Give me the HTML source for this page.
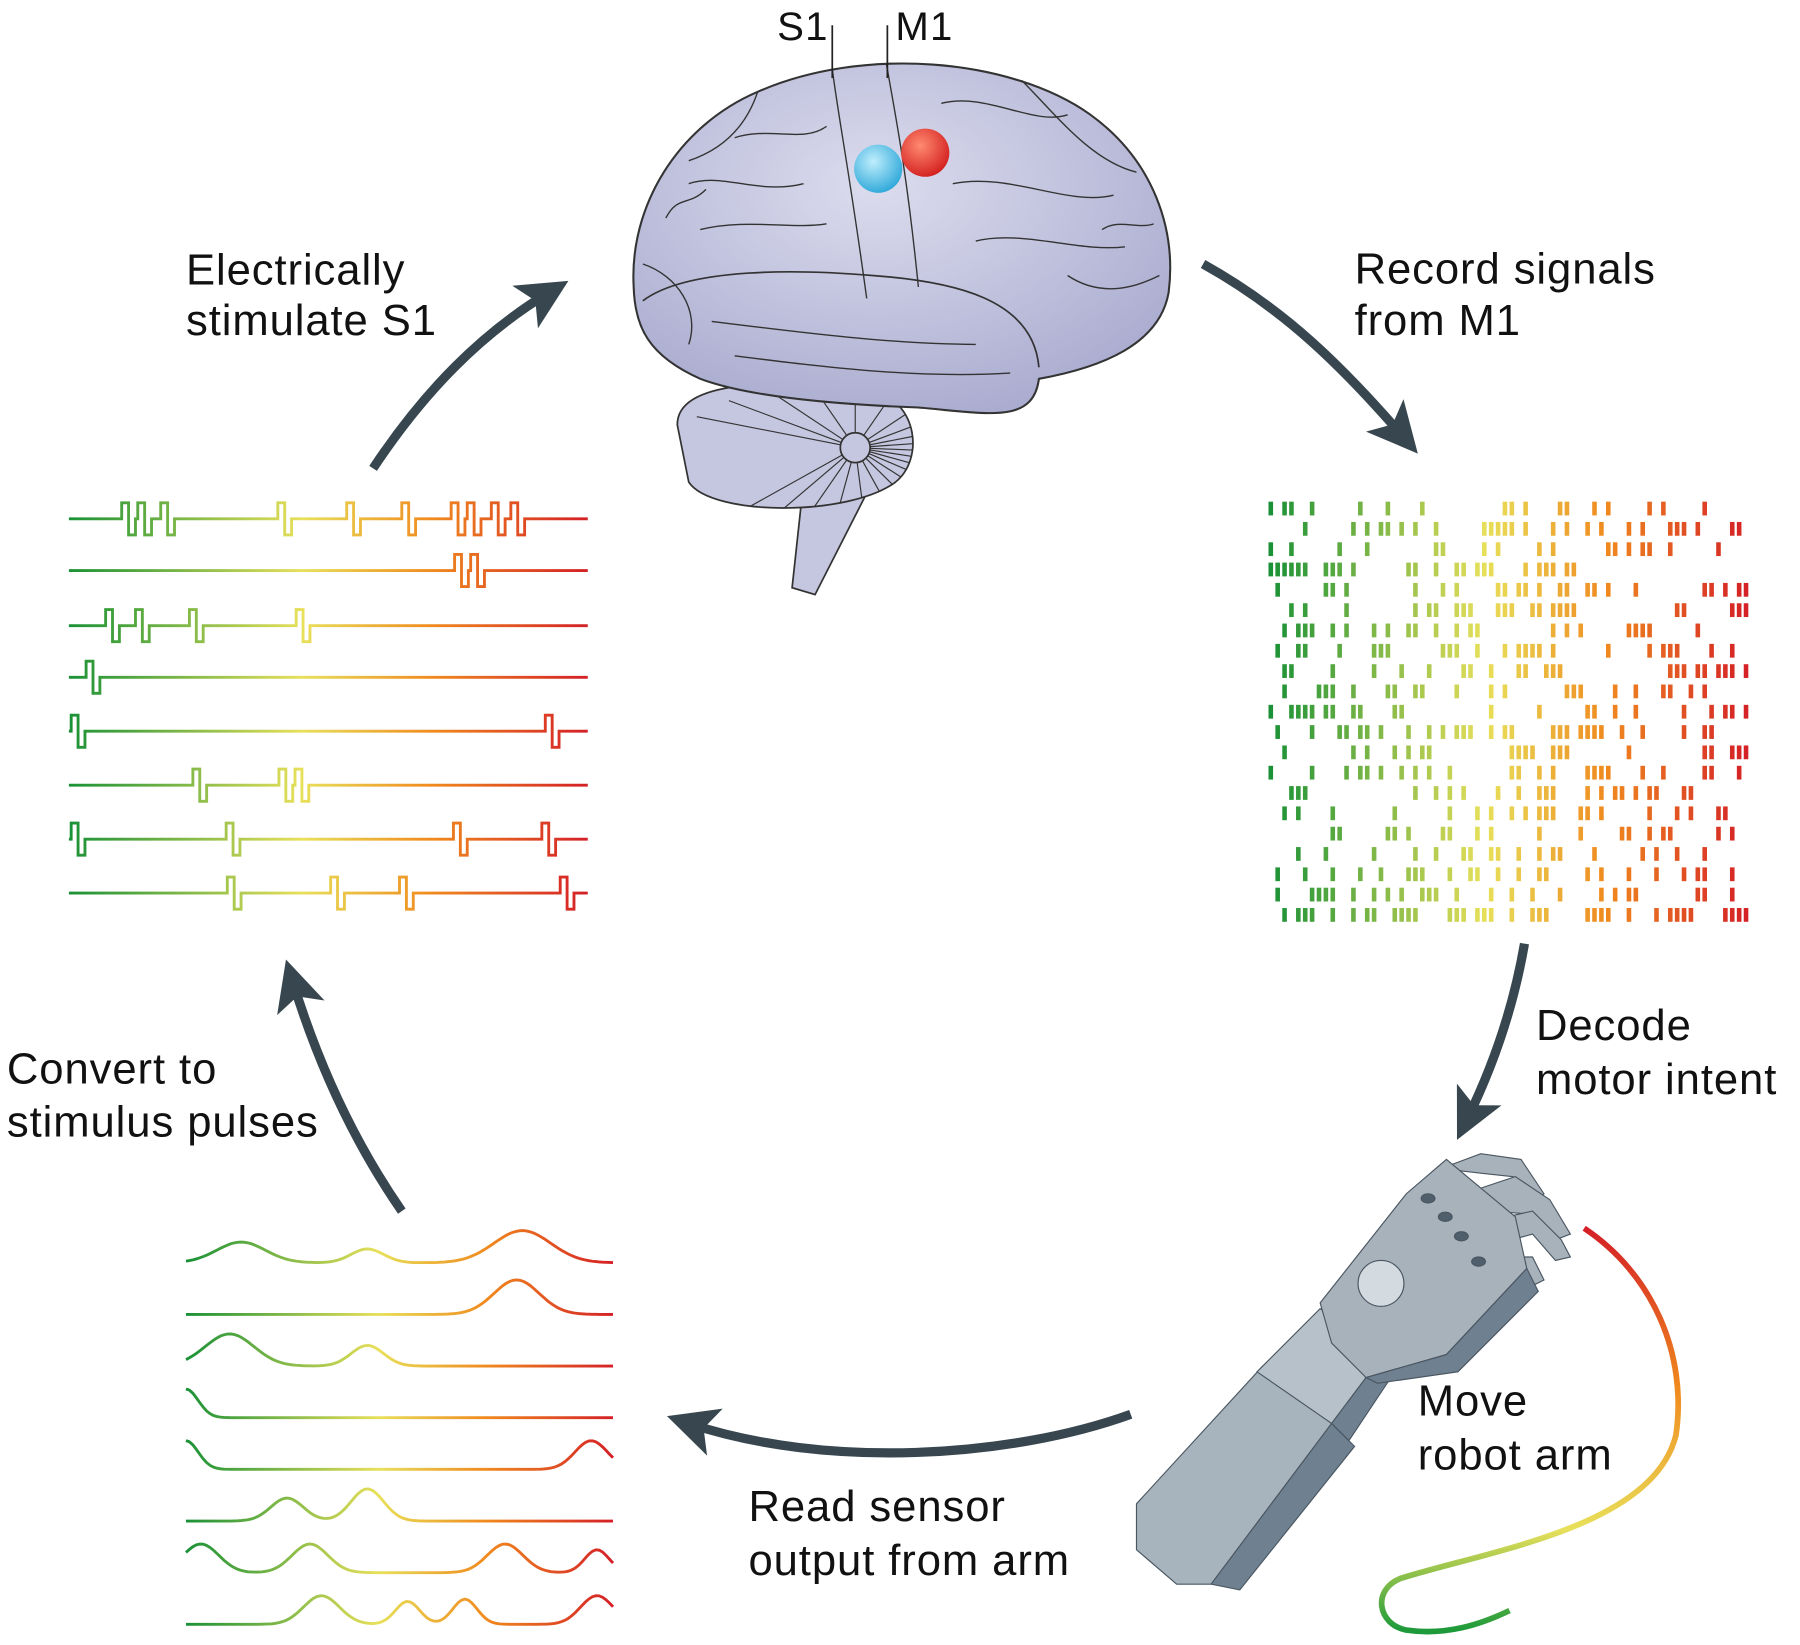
<!DOCTYPE html>
<html><head><meta charset="utf-8"><style>
html,body{margin:0;padding:0;background:#fff;}
svg{display:block;}
text{font-family:"Liberation Sans",sans-serif;fill:#111;}
</style></head><body>
<svg id="s" width="1800" height="1645" viewBox="0 0 1568 1433" xmlns="http://www.w3.org/2000/svg">
<defs>
<linearGradient id="gl" gradientUnits="userSpaceOnUse" x1="60" y1="0" x2="512" y2="0">
<stop offset="0" stop-color="#1a9136"/><stop offset="0.45" stop-color="#e8e05a"/><stop offset="0.7" stop-color="#f08a1e"/><stop offset="1" stop-color="#d41f26"/></linearGradient>
<linearGradient id="gb" gradientUnits="userSpaceOnUse" x1="162" y1="0" x2="535" y2="0">
<stop offset="0" stop-color="#1a9136"/><stop offset="0.45" stop-color="#e8e05a"/><stop offset="0.7" stop-color="#f08a1e"/><stop offset="1" stop-color="#d41f26"/></linearGradient>
<linearGradient id="gc" gradientUnits="userSpaceOnUse" x1="0" y1="1070" x2="0" y2="1420">
<stop offset="0" stop-color="#d41f26"/><stop offset="0.4" stop-color="#f08a1e"/><stop offset="0.75" stop-color="#e8e05a"/><stop offset="1" stop-color="#1e9a3a"/></linearGradient>
<radialGradient id="bl" cx="0.4" cy="0.35" r="0.7"><stop offset="0" stop-color="#bfeefc"/><stop offset="1" stop-color="#2aa6d8"/></radialGradient>
<radialGradient id="rd" cx="0.4" cy="0.35" r="0.7"><stop offset="0" stop-color="#ff8a70"/><stop offset="1" stop-color="#d21d1d"/></radialGradient>
<radialGradient id="br" cx="0.45" cy="0.35" r="0.7"><stop offset="0" stop-color="#dcdcee"/><stop offset="1" stop-color="#a9abcf"/></radialGradient>
<clipPath id="cbc"><path d="M590,370 C590,330 680,330 760,340 C800,350 805,400 780,420 C740,450 620,450 600,420 Z"/></clipPath>
<marker id="ah" markerWidth="6" markerHeight="6" refX="3" refY="3" orient="auto" markerUnits="strokeWidth"><path d="M0,0.3 L5.5,3 L0,5.7 L1.3,3 Z" fill="#37464f"/></marker>
</defs>

<path d="M700,420 L690,512 L710,518 L765,410 Z" fill="#c5c6df" stroke="#333" stroke-width="1.5"/>
<path d="M590,370 C590,330 680,330 760,340 C800,350 805,400 780,420 C740,450 620,450 600,420 Z" fill="#c5c6df" stroke="#333" stroke-width="1.5"/>
<g stroke="#333" stroke-width="1" fill="none" id="cb" clip-path="url(#cbc)"></g>
<circle cx="745" cy="390" r="13" fill="#c5c6df" stroke="#333" stroke-width="1.5"/>
<path d="M552,250 C548,180 590,110 660,80 C750,40 880,50 950,100 C1005,140 1025,200 1018,255 C1010,300 960,320 905,330 C900,370 860,360 800,355 C720,352 650,345 610,330 C565,310 553,285 552,250 Z" fill="url(#br)" stroke="#333" stroke-width="1.8"/>
<path d="M560,262 C600,232 700,235 760,240 C830,245 900,260 905,320" fill="none" stroke="#333" stroke-width="1.5"/>
<g stroke="#333" stroke-width="1.2" fill="none">
<path d="M725,60 C730,100 740,150 755,260"/><path d="M772,55 C780,100 790,150 800,250"/>
<path d="M600,160 C630,150 660,170 700,160"/><path d="M640,120 C670,110 700,125 720,110"/>
<path d="M820,90 C860,80 900,110 930,100"/><path d="M830,160 C880,150 930,180 970,170"/>
<path d="M850,210 C890,200 940,220 980,215"/><path d="M610,200 C650,190 690,200 720,195"/>
<path d="M620,280 C700,290 780,300 850,300"/><path d="M640,310 C720,320 800,330 880,325"/>
<path d="M890,70 C920,100 950,140 990,150"/><path d="M660,80 C650,110 630,130 600,140"/>
<path d="M560,230 C590,240 610,270 600,300"/><path d="M930,240 C960,260 990,250 1010,240"/>
<path d="M580,190 C590,170 600,180 615,165"/><path d="M960,200 C975,190 990,200 1005,195"/>
</g>
<circle cx="765" cy="147" r="21" fill="url(#bl)"/>
<circle cx="806" cy="133" r="21" fill="url(#rd)"/>
<line x1="725" y1="22" x2="725" y2="68" stroke="#222" stroke-width="1.5"/>
<line x1="773" y1="22" x2="773" y2="68" stroke="#222" stroke-width="1.5"/>
<text x="677" y="35" font-size="35" letter-spacing="1">S1</text>
<text x="780" y="35" font-size="35" letter-spacing="1">M1</text>

<g font-size="38" letter-spacing="0.8">
<text x="162" y="248">Electrically</text><text x="162" y="292">stimulate S1</text>
<text x="1180" y="247">Record signals</text><text x="1180" y="292">from M1</text>
<text x="1338" y="906">Decode</text><text x="1338" y="953">motor intent</text>
<text x="1235" y="1233">Move</text><text x="1235" y="1280">robot arm</text>
<text x="652" y="1325">Read sensor</text><text x="652" y="1372">output from arm</text>
<text x="6" y="944">Convert to</text><text x="6" y="990">stimulus pulses</text>
</g>

<g stroke="#37464f" stroke-width="8" fill="none" marker-end="url(#ah)">
<path d="M325,408 C370,340 420,290 478,255"/>
<path d="M1048,230 C1120,270 1170,320 1222,380"/>
<path d="M1328,822 C1318,880 1300,930 1278,975"/>
<path d="M985,1232 C880,1270 720,1280 600,1240"/>
<path d="M350,1055 C305,990 275,920 255,855"/>
</g>

<g stroke="#4a5661" stroke-width="1">
<polygon points="990,1310 1100,1190 1160,1240 1055,1380 1025,1380 990,1350" fill="#a8b4bd"/>
<polygon points="1055,1380 1160,1240 1180,1260 1080,1385" fill="#6f8090"/>
<polygon points="1095,1195 1150,1140 1205,1180 1160,1240" fill="#b6c1c9"/>
<polygon points="1160,1240 1205,1180 1215,1195 1175,1255" fill="#6f8090"/>
<polygon points="1255,1018 1290,1005 1325,1010 1345,1040 1335,1048 1318,1025 1290,1022" fill="#a7b2bb"/>
<polygon points="1275,1040 1320,1025 1350,1045 1368,1075 1355,1080 1338,1058 1300,1055" fill="#a7b2bb"/>
<polygon points="1290,1065 1335,1055 1360,1080 1368,1095 1355,1098 1335,1075 1310,1082" fill="#a7b2bb"/>
<polygon points="1300,1095 1335,1095 1345,1115 1335,1120 1320,1108" fill="#a7b2bb"/>
<polygon points="1150,1135 1225,1040 1260,1010 1320,1060 1330,1105 1260,1180 1190,1200 1160,1170" fill="#a7b2bb"/>
<polygon points="1190,1200 1260,1180 1330,1105 1340,1125 1270,1195 1200,1205" fill="#6f8090"/>
<circle cx="1203" cy="1118" r="20" fill="#d3dbe0"/>
<ellipse cx="1244" cy="1044" rx="6" ry="4" fill="#4f5f6b"/><ellipse cx="1259" cy="1060" rx="6" ry="4" fill="#4f5f6b"/>
<ellipse cx="1273" cy="1077" rx="6" ry="4" fill="#4f5f6b"/><ellipse cx="1288" cy="1099" rx="6" ry="4" fill="#4f5f6b"/>
</g>
<path d="M1380,1070 C1440,1110 1470,1180 1460,1250 C1440,1330 1300,1350 1220,1375 C1195,1385 1200,1415 1225,1420 C1260,1425 1290,1415 1315,1403" fill="none" stroke="url(#gc)" stroke-width="5"/>

<g id="pulses" fill="none" stroke="url(#gl)" stroke-width="2.5"></g>
<g id="smooth" fill="none" stroke="url(#gb)" stroke-width="2.5"></g>
<g id="raster"></g>
</svg>
<script>
var NS="http://www.w3.org/2000/svg";
function add(g,tag,a){var e=document.createElementNS(NS,tag);for(var k in a)e.setAttribute(k,a[k]);document.getElementById(g).appendChild(e);}
var ys=[452,497,545,590,637,684,731,778];
var P=[[106,120,140,242,302,350,393,407,428,445],[396,410],[92,118,165,258],[75],[62,475],[168,243,257],[62,197,395,472],[198,288,348,488]];
ys.forEach(function(y,i){var d="M60,"+y;P[i].forEach(function(x){d+=" L"+x+","+y+" L"+x+","+(y-14)+" L"+(x+6)+","+(y-14)+" L"+(x+6)+","+(y+14)+" L"+(x+12)+","+(y+14)+" L"+(x+12)+","+y;});d+=" L512,"+y;add("pulses","path",{d:d});});
var ys2=[1100,1145,1190,1235,1280,1325,1370,1415];
var B=[[[210,18,30],[320,12,20],[455,28,35]],[[450,30,28]],[[200,28,30],[320,18,20]],[[162,25,15]],[[162,25,15],[515,25,20]],[[250,20,20],[320,28,20]],[[175,25,22],[270,25,22],[440,25,22],[520,20,15]],[[280,25,22],[355,20,15],[405,22,15],[520,25,20]]];
ys2.forEach(function(y,i){var d="";for(var x=162;x<=535;x+=3){var v=0;B[i].forEach(function(b){v+=b[1]*Math.exp(-Math.pow((x-b[0])/b[2],2));});d+=(d?" L":"M")+x+","+(y-v).toFixed(1);}add("smooth","path",{d:d});});
var seed=7;function r(){seed=(seed*16807)%2147483647;return seed/2147483647;}
function col(t){var s=[[26,145,54],[232,224,90],[240,138,30],[212,31,38]],p=[0,0.45,0.7,1];for(var k=0;k<3;k++)if(t<=p[k+1]){var f=(t-p[k])/(p[k+1]-p[k]);return "rgb("+s[k].map(function(c,j){return Math.round(c+(s[k+1][j]-c)*f)}).join(",")+")";}return "rgb(212,31,38)";}
for(var row=0;row<21;row++){var y=437+row*17.7;for(var x=1105;x<1520;x+=6){if(r()<0.33){add("raster","rect",{x:x,y:y,width:4,height:12,fill:col((x-1105)/417)});}}}
for(var a=0;a<22;a++){var ang=Math.PI*(0.2+a*0.075);add("cb","path",{d:"M745,390 L"+(745+Math.cos(ang)*-170).toFixed(0)+","+(390+Math.sin(ang)*-80+20).toFixed(0)});}
</script>
</body></html>
